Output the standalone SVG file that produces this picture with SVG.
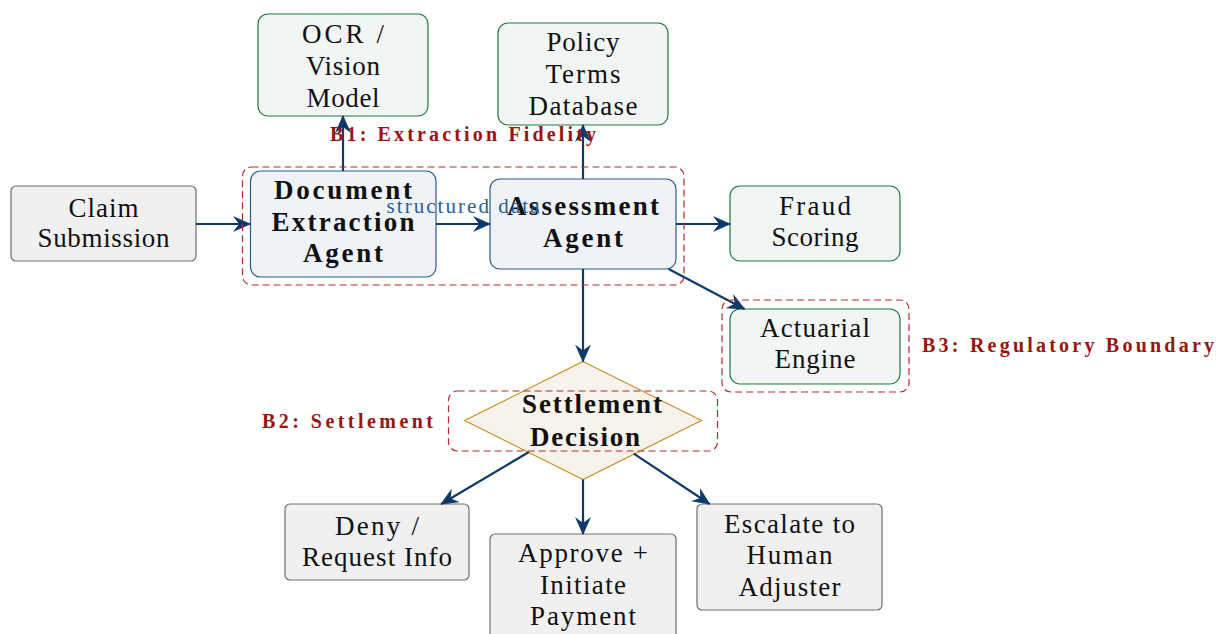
<svg xmlns="http://www.w3.org/2000/svg" width="1220" height="634" viewBox="0 0 1220 634">
<defs>
<style>
.t{font-family:'Liberation Serif','DejaVu Serif','Times New Roman',serif;font-size:27px;fill:#111;text-anchor:middle}
.b{font-family:'Liberation Serif','DejaVu Serif','Times New Roman',serif;font-size:27px;font-weight:bold;fill:#111;text-anchor:middle}
.gray{fill:#f0f0f0;stroke:#6e6e6e;stroke-width:1.2}
.blue{fill:#eff3f8;stroke:#2b5c8f;stroke-width:1.2}
.green{fill:#f1f5f3;stroke:#1e7a40;stroke-width:1.2}
.dia{fill:#f8f3ea;stroke:#c8922a;stroke-width:1.2}
.edge{fill:none;stroke:#0c3a6b;stroke-width:2.2;marker-end:url(#ah)}
.bound{fill:none;stroke:#b8282d;stroke-width:1.2;stroke-dasharray:7,4}
.bl{font-family:'Liberation Serif','DejaVu Serif','Times New Roman',serif;font-size:20px;font-weight:bold;fill:#9b1414;text-anchor:middle}
.el{font-family:'Liberation Serif','DejaVu Serif','Times New Roman',serif;font-size:21px;fill:#2e5d8f;text-anchor:middle}
</style>
<marker id="ah" viewBox="0 0 18 16" refX="17" refY="8" markerWidth="18" markerHeight="16" markerUnits="userSpaceOnUse" orient="auto">
<path d="M0,0 L18,8 L0,16 L6,8 Z" fill="#0c3a6b"/>
</marker>
</defs>
<rect width="1220" height="634" fill="#ffffff"/>

<g id="claim">
<rect class="gray" x="11" y="186" width="185" height="75" rx="5"/>
<text class="t" x="103.5" y="216.5" textLength="70">Claim</text>
<text class="t" x="103.5" y="247" textLength="132">Submission</text>
</g>
<g id="doc">
<rect class="blue" x="250.5" y="171" width="185.5" height="106" rx="10"/>
<text class="b" x="343" y="199" textLength="138">Document</text>
<text class="b" x="343" y="231" textLength="143">Extraction</text>
<text class="b" x="343" y="262" textLength="80">Agent</text>
</g>
<g id="assess">
<rect class="blue" x="490" y="179" width="186" height="90" rx="10"/>
<text class="b" x="583" y="215" textLength="152">Assessment</text>
<text class="b" x="583" y="247" textLength="80">Agent</text>
</g>
<g id="ocr">
<rect class="green" x="258" y="14" width="170" height="102" rx="10"/>
<text class="t" x="343" y="43" textLength="82">OCR /</text>
<text class="t" x="343" y="75" textLength="74">Vision</text>
<text class="t" x="343" y="107" textLength="73">Model</text>
</g>
<g id="policy">
<rect class="green" x="498" y="23" width="170" height="102" rx="10"/>
<text class="t" x="583" y="51" textLength="73">Policy</text>
<text class="t" x="583" y="83" textLength="75">Terms</text>
<text class="t" x="583" y="115" textLength="109">Database</text>
</g>
<g id="fraud">
<rect class="green" x="730" y="186" width="170" height="75" rx="10"/>
<text class="t" x="815" y="215" textLength="72">Fraud</text>
<text class="t" x="815" y="246" textLength="87">Scoring</text>
</g>
<g id="actuarial">
<rect class="green" x="730" y="309" width="170" height="75" rx="10"/>
<text class="t" x="815" y="337" textLength="110">Actuarial</text>
<text class="t" x="815" y="368" textLength="81">Engine</text>
</g>
<g id="settlement">
<polygon class="dia" points="583,361.5 701.5,420.5 583,479.5 464.5,420.5"/>
<text class="b" x="592" y="413" textLength="140">Settlement</text>
<text class="b" x="585" y="446" textLength="110">Decision</text>
</g>
<g id="deny">
<rect class="gray" x="285" y="504" width="184" height="76" rx="5"/>
<text class="t" x="377" y="535" textLength="84">Deny /</text>
<text class="t" x="377" y="566" textLength="150">Request Info</text>
</g>
<g id="approve">
<rect class="gray" x="490" y="534" width="186" height="106" rx="5"/>
<text class="t" x="583" y="562" textLength="130">Approve +</text>
<text class="t" x="583" y="594" textLength="86">Initiate</text>
<text class="t" x="583" y="625" textLength="106">Payment</text>
</g>
<g id="escalate">
<rect class="gray" x="697" y="504" width="185" height="106" rx="5"/>
<text class="t" x="789.5" y="533" textLength="131">Escalate to</text>
<text class="t" x="789.5" y="564" textLength="86">Human</text>
<text class="t" x="789.5" y="596" textLength="102">Adjuster</text>
</g>

<g id="connectors">
<line class="edge" x1="196" y1="224" x2="250" y2="224"/>
<line class="edge" x1="436" y1="224" x2="490" y2="224"/>
<line class="edge" x1="343" y1="171" x2="343" y2="116"/>
<line class="edge" x1="583" y1="179" x2="583" y2="125"/>
<line class="edge" x1="676" y1="224" x2="730" y2="224"/>
<line class="edge" x1="668.6" y1="269" x2="744.5" y2="309"/>
<line class="edge" x1="583" y1="269" x2="583" y2="361.5"/>
<line class="edge" x1="528.9" y1="452" x2="441.2" y2="504"/>
<line class="edge" x1="583" y1="479.5" x2="583" y2="534"/>
<line class="edge" x1="633.8" y1="453.7" x2="709.6" y2="504"/>
<text class="el" x="463" y="213" textLength="153">structured data</text>
</g>

<g id="boundaries">
<rect class="bound" x="242.5" y="167" width="441.5" height="118" rx="9"/>
<text class="bl" x="463" y="141" textLength="266">B1: Extraction Fidelity</text>
<rect class="bound" x="448.5" y="391" width="269" height="60" rx="9"/>
<text class="bl" x="347.5" y="428" textLength="171">B2: Settlement</text>
<rect class="bound" x="722" y="300" width="187" height="92" rx="9"/>
<text class="bl" x="1068" y="352" textLength="292">B3: Regulatory Boundary</text>
</g>
</svg>
